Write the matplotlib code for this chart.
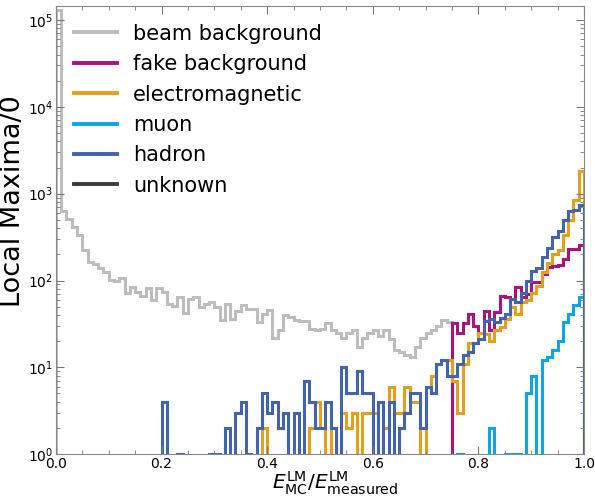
import numpy as np
import matplotlib
matplotlib.use("Agg")
import matplotlib.pyplot as plt
from matplotlib.ticker import AutoMinorLocator

# 100 bins of E_MC / E_measured between 0 and 1
bin_edges = np.linspace(0.0, 1.0, 101)

beam_background = [
    130000, 630, 510, 410, 330, 225, 165, 155, 140, 125,
    102, 100, 106, 71, 85, 73, 66, 82, 59, 82,
    73, 53, 51, 64, 42, 62, 65, 49, 54, 56,
    50, 35, 53, 36, 45, 52, 47, 47, 33, 41,
    46, 22, 27, 40, 38, 35, 34, 34, 28, 27,
    28, 32, 27, 25, 22, 25, 27, 17, 22, 25,
    27, 23, 27, 21, 16, 15, 14, 13, 17, 22,
    25, 27, 30, 35, 33, 0, 0, 0, 0, 0,
    0, 0, 0, 0, 0, 0, 0, 0, 0, 0,
    0, 0, 0, 0, 0, 0, 0, 0, 0, 0,
]

fake_background = [0] * 75 + [
    32, 25, 32, 41, 30,
    25, 45, 27, 43, 67, 64, 62, 85, 64, 69,
    95, 95, 120, 142, 147, 149, 178, 233, 228, 259,
]

electromagnetic = [
    0, 0, 0, 0, 0, 0, 0, 0, 0, 0,
    0, 0, 0, 0, 0, 0, 0, 0, 0, 0,
    0, 0, 0, 0, 0, 0, 0, 0, 0, 0,
    0, 0, 0, 0, 0, 0, 0, 0, 0, 2,
    0, 0, 0, 0, 0, 0, 0, 0, 2, 4,
    2, 0, 2, 0, 3, 2, 3, 0, 3, 3,
    3, 0, 2, 6, 3, 3, 6, 4, 4, 0,
    6, 8, 11, 12, 12, 7, 3, 11, 19, 19,
    25, 24, 20, 27, 29, 36, 50, 41, 57, 60,
    72, 87, 125, 158, 200, 225, 330, 500, 850, 1830,
]

muon = [0] * 76 + [
    1, 0, 0, 0, 0,
    0, 2, 0, 0, 1, 1, 1, 0, 5,
    8, 0, 12, 13, 16, 20, 33, 41, 52, 65,
]

hadron = [
    0, 0, 0, 0, 0, 0, 0, 0, 0, 0,
    0, 0, 0, 0, 0, 0, 0, 0, 0, 0,
    4, 0, 0, 1, 0, 0, 0, 0, 0, 1,
    1, 0, 2, 0, 3, 4, 1, 0, 2, 5,
    3, 4, 2, 3, 0, 3, 0, 7, 4, 2,
    2, 4, 2, 0, 10, 5, 5, 9, 5, 5,
    0, 4, 0, 4, 0, 2, 3, 5, 5, 2,
    6, 5, 11, 12, 8, 8, 11, 14, 15, 19,
    21, 34, 36, 33, 37, 41, 62, 56, 71, 98,
    128, 140, 185, 235, 315, 375, 500, 635, 650, 740,
]

unknown = [0] * 100

labels = ["beam background", "fake background", "electromagnetic",
          "muon", "hadron", "unknown"]
colors = ["#bdbdbd", "#a8137f", "#e69f1a", "#0ea5e3", "#4263ad", "#3c3c3c"]

fig = plt.figure(figsize=(5.95, 4.98), dpi=100)
ax = fig.add_axes([0.094, 0.088, 0.8875, 0.9])
ax.set_yscale("log", nonpositive="clip")

series = [beam_background, fake_background, electromagnetic, muon, hadron, unknown]
for counts, label, color in zip(series, labels, colors):
    counts = np.array(counts, dtype=float)
    if counts.sum() > 0:
        ax.stairs(counts, bin_edges, color=color, lw=2.2)
    ax.plot([], [], color=color, lw=2.8, label=label)

ax.set_xlim(0, 1)
ax.set_ylim(1, 1.45e5)

ax.set_xlabel(r"$E_{\mathrm{MC}}^{\mathrm{LM}}/E_{\mathrm{measured}}^{\mathrm{LM}}$",
              fontsize=14.5)
ax.xaxis.set_label_coords(0.528, -0.034)
ax.set_ylabel("Local Maxima/0", fontsize=19.5)
ax.yaxis.set_label_coords(-0.056, 0.565)

ax.xaxis.set_minor_locator(AutoMinorLocator())
ax.tick_params(which="both", direction="in", top=True, right=True,
               colors="#777777", labelcolor="black", labelsize=10)
ax.tick_params(which="major", length=6, pad=2)
ax.tick_params(which="minor", length=3)
for sp in ax.spines.values():
    sp.set_color("#888888")

ax.legend(loc="upper left", frameon=False, fontsize=15,
          handlelength=2.1, handletextpad=0.75, labelspacing=0.5,
          borderaxespad=0.45)

fig.savefig("out.png", dpi=100)
